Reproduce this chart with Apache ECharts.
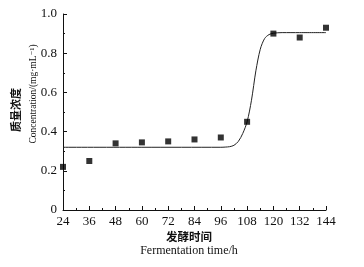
<!DOCTYPE html>
<html>
<head>
<meta charset="utf-8">
<script src="https://cdn.jsdelivr.net/npm/echarts@6/dist/echarts.min.js"></script>
<style>
  html, body { margin: 0; padding: 0; background: #fff; }
  #chart { width: 364px; height: 267px; }
</style>
</head>
<body>
<div id="chart"></div>
<script>
// measured points (fermentation time / h, concentration)
var hours = [24, 36, 48, 60, 72, 84, 96, 108, 120, 132, 144];
var conc = [0.22, 0.25, 0.34, 0.345, 0.35, 0.36, 0.37, 0.45, 0.90, 0.88, 0.93];

// fitted curve
var fitHours = [24, 60, 96, 98, 100, 102, 104, 106, 108, 110, 112, 114, 116, 118, 120, 124, 132, 144];
var fitConc = [0.32, 0.32, 0.32, 0.321, 0.323, 0.33, 0.35, 0.39, 0.45, 0.56, 0.71, 0.82, 0.875, 0.895, 0.902, 0.905, 0.905, 0.905];

var xTicks = [24, 36, 48, 60, 72, 84, 96, 108, 120, 132, 144];

(function () {
    let myChart = echarts.init(document.getElementById("chart"));
    let serif = "'Liberation Serif', 'DejaVu Serif', serif";
    let cjk = "'Noto Sans CJK SC', sans-serif";

    let option = {
        animation: false,
        grid: { left: 63, right: 38, top: 14, bottom: 57 },
        xAxis: {
            type: 'value',
            min: xTicks[0],
            max: xTicks[xTicks.length - 1],
            interval: 12,
            axisLine: { lineStyle: { color: '#111', width: 1 } },
            axisTick: { inside: true, length: 4, lineStyle: { color: '#111' } },
            minorTick: { show: true, splitNumber: 2, length: 2, lineStyle: { color: '#111' } },
            splitLine: { show: false },
            axisLabel: { color: '#111', fontFamily: serif, fontSize: 13, margin: 5 }
        },
        yAxis: {
            type: 'value',
            min: 0,
            max: 1,
            interval: 0.2,
            axisLine: { show: true, lineStyle: { color: '#111', width: 1 } },
            axisTick: { show: true, inside: true, length: 4, lineStyle: { color: '#111' } },
            minorTick: { show: true, splitNumber: 2, length: 2, lineStyle: { color: '#111' } },
            splitLine: { show: false },
            axisLabel: {
                color: '#111', fontFamily: serif, fontSize: 13, margin: 6,
                formatter: function (v) { return v === 0 ? '0' : v.toFixed(1); }
            }
        },
        series: [
            {
                type: 'line',
                data: fitHours.map(function (h, i) { return [h, fitConc[i]]; }),
                smooth: 0.3,
                symbol: 'none',
                lineStyle: { color: '#222', width: 1 },
                z: 2
            },
            {
                type: 'scatter',
                data: hours.map(function (h, i) { return [h, conc[i]]; }),
                symbol: 'rect',
                symbolSize: 6,
                itemStyle: { color: '#000' },
                z: 3
            }
        ],
        graphic: [
            {
                type: 'text',
                x: 16, y: 110, rotation: Math.PI / 2,
                style: {
                    text: '质量浓度', fill: '#111', fontFamily: cjk, fontWeight: 'bold',
                    fontSize: 11, align: 'center', verticalAlign: 'middle'
                }
            },
            {
                type: 'text',
                x: 33, y: 94, rotation: Math.PI / 2,
                style: {
                    text: 'Concentration/(mg·mL⁻¹)', fill: '#111', fontFamily: serif,
                    fontSize: 9.5, align: 'center', verticalAlign: 'middle'
                }
            },
            {
                type: 'text',
                x: 189, y: 237,
                style: {
                    text: '发酵时间', fill: '#111', fontFamily: cjk, fontWeight: 'bold',
                    fontSize: 11.5, align: 'center', verticalAlign: 'middle'
                }
            },
            {
                type: 'text',
                x: 189, y: 251,
                style: {
                    text: 'Fermentation time/h', fill: '#111', fontFamily: serif,
                    fontSize: 12, align: 'center', verticalAlign: 'middle'
                }
            }
        ]
    };

    myChart.setOption(option);
    window.addEventListener("resize", function () {
        myChart.resize();
    });
})();
</script>
</body>
</html>
